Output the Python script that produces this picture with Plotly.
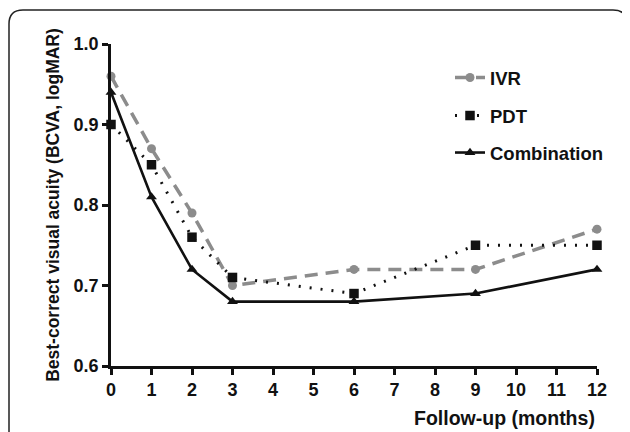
import plotly.graph_objects as go

months = [0, 1, 2, 3, 6, 9, 12]
ivr = [0.96, 0.87, 0.79, 0.70, 0.72, 0.72, 0.77]
pdt = [0.90, 0.85, 0.76, 0.71, 0.69, 0.75, 0.75]
combo = [0.94, 0.81, 0.72, 0.68, 0.68, 0.69, 0.72]
x_ticks = list(range(0, 13))
y_ticks = [0.6, 0.7, 0.8, 0.9, 1.0]
y_tick_labels = ["0.6", "0.7", "0.8", "0.9", "1.0"]

FONT = "Liberation Sans, Arial, sans-serif"

# page has an 8px body margin; figure is sized so it fills the rest of the window
OFF = 8
FW, FH = 630 - OFF, 432 - OFF

fig = go.Figure()
fig.add_trace(go.Scatter(
    x=months, y=ivr, name="<b>IVR</b>", mode="lines+markers", cliponaxis=False,
    line=dict(color="#8c8c8c", width=3.5, dash="13px,8px"),
    marker=dict(symbol="circle", size=9, color="#8c8c8c"),
    legend="legend", showlegend=True))
fig.add_trace(go.Scatter(
    x=months, y=pdt, name="<b>PDT</b>", mode="lines+markers", cliponaxis=False,
    line=dict(color="#111111", width=3, dash="2px,9px"),
    marker=dict(symbol="square", size=9.5, color="#111111"),
    legend="legend2", showlegend=True))
fig.add_trace(go.Scatter(
    x=months, y=combo, name="<b>Combination</b>", mode="lines+markers", cliponaxis=False,
    line=dict(color="#111111", width=2.6),
    marker=dict(symbol="triangle-up", size=9.5, color="#111111"),
    legend="legend3", showlegend=True))

# plot-area edges in page pixels
PL, PR, PT, PB = 111, 597, 44, 366
L, T = PL - OFF, PT - OFF
R, B = 630 - PR, 432 - PB
W = PR - PL
H = PB - PT

def px(x):
    return (x - PL) / W

def py(y):
    return 1 - (y - PT) / H

def leg(ycenter):
    return dict(x=px(450), y=py(ycenter), xanchor="left", yanchor="middle", visible=True,
                bgcolor="rgba(0,0,0,0)", font=dict(family=FONT, size=18.5, color="#111"),
                itemwidth=30)

# rounded border (open at the bottom, which lies below the window)
x0, x1, ytop, ybot = px(9), px(627), py(10), py(470)
rx, ry = 14 / W, 14 / H
path = (f"M {x0} {ybot} L {x0} {ytop - ry} Q {x0} {ytop} {x0 + rx} {ytop} "
        f"L {x1 - rx} {ytop} Q {x1} {ytop} {x1} {ytop - ry} L {x1} {ybot}")

fig.update_layout(
    width=FW, height=FH,
    margin=dict(l=L, r=R, t=T, b=B, autoexpand=False),
    paper_bgcolor="white", plot_bgcolor="white",
    font=dict(family=FONT, color="#111"),
    showlegend=True,
    legend=leg(78), legend2=leg(116), legend3=leg(153),
    shapes=[dict(type="path", xref="paper", yref="paper", path=path,
                 line=dict(color="#222", width=1.5), layer="below")],
    xaxis=dict(range=[0, 12], tickvals=x_ticks, ticks="outside", ticklen=6, tickwidth=2.5,
               tickcolor="#111", showline=True, linecolor="#111", linewidth=2.5,
               showgrid=False, zeroline=False,
               tickfont=dict(family=FONT, size=18, color="#111", weight="bold")),
    yaxis=dict(range=[0.6, 1.0], tickvals=y_ticks, ticktext=y_tick_labels, ticks="outside",
               ticklen=6, tickwidth=2.5, tickcolor="#111", showline=True, linecolor="#111",
               linewidth=2.5, showgrid=False, zeroline=False,
               tickfont=dict(family=FONT, size=18, color="#111", weight="bold"),
               title=dict(text="<b>Best-correct visual acuity (BCVA, logMAR)</b>",
                          font=dict(family=FONT, size=17.5, color="#111"), standoff=10)),
    annotations=[dict(text="<b>Follow-up (months)</b>", xref="paper", yref="paper",
                      x=1, y=py(418), xanchor="right", yanchor="middle", showarrow=False,
                      font=dict(family=FONT, size=19.5, color="#111"))],
)

fig.write_html("out.html")
